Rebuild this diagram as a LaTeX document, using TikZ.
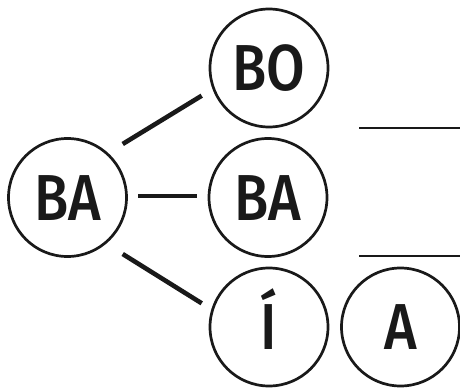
\documentclass[tikz,border=0pt]{standalone}
\usepackage{fontspec}
\newfontfamily\lblfont[FakeStretch=0.86]{Fira Sans Medium}
\usetikzlibrary{calc}
\tikzset{
  syl/.style={circle, draw=black!90, line width=2.7pt, minimum size=118pt, inner sep=0pt,
    font=\lblfont\fontsize{65}{65}\selectfont, text height=45pt, text depth=0pt, text=black!90},
  link/.style={line width=4.6pt, draw=black!90},
  blank/.style={line width=2pt, draw=black!90}
}
\begin{document}
\begin{tikzpicture}[x=1pt,y=-1pt]
\useasboundingbox (0,0) rectangle (460,388);
\node[syl] (BAl) at (67.5,197.5) {BA};
\node[syl] (BO) at (269,68) {BO};
\node[syl] (BAm) at (268,197.5) {BA};
\node[syl] (I) at (269,327) {Í};
\node[syl] (A) at (400.5,327) {A};
\draw[link] ($(BAl.center)+(55.2,-53.5)$) -- ($(BO.center)+(-67.3,27.7)$);
\draw[link] ($(BAl.center)+(70.8,-1.5)$) -- ($(BAm.center)+(-70.7,-1.5)$);
\draw[link] ($(BAl.center)+(55.2,56.5)$) -- ($(I.center)+(-67.3,-23.7)$);
\coordinate (b1s) at (359,128);
\coordinate (b1e) at (460,128);
\coordinate (b2s) at (359,256);
\coordinate (b2e) at (460,256);
\draw[blank] (b1s) -- (b1e);
\draw[blank] (b2s) -- (b2e);
\end{tikzpicture}
\end{document}
